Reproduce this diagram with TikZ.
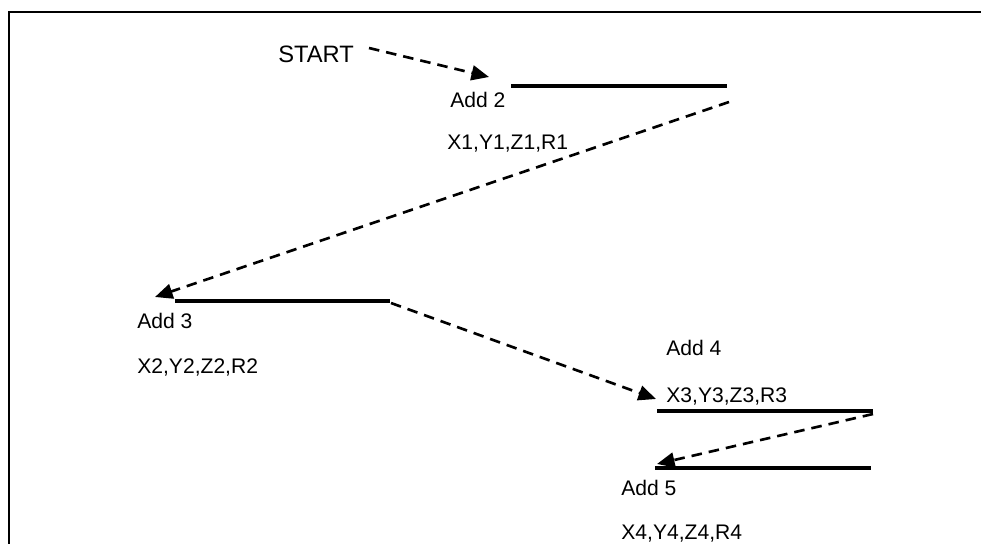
\documentclass[tikz,border=0pt]{standalone}
\usepackage{fontspec}
\setmainfont{Liberation Sans}
\usetikzlibrary{arrows.meta}
\begin{document}
\begin{tikzpicture}[x=0.02cm,y=-0.02cm,
  lbl/.style={anchor=base west,inner sep=0pt,font=\fontsize{12}{14}\selectfont},
  biglbl/.style={lbl,font=\fontsize{13.5}{16}\selectfont},
  bar/.style={line width=2.6pt},
  flow/.style={line width=1.5pt,dash pattern=on 6pt off 4pt,-{Triangle[length=10pt,width=8.5pt]}},
  frame/.style={line width=1.4pt}]
\useasboundingbox (0,0) rectangle (981,544);
% frame (cropped)
\coordinate (fa) at (9,544);
\coordinate (fb) at (9,12);
\coordinate (fc) at (981,12);
\draw[frame] (fa) -- (fb) -- (fc);
% texts
\node[biglbl] (start) at (278,63) {START};
\node[lbl] (add2) at (450,108) {Add 2};
\node[lbl] (v1) at (447,150) {X1,Y1,Z1,R1};
\node[lbl] (add3) at (137,328) {Add 3};
\node[lbl] (v2) at (137,373) {X2,Y2,Z2,R2};
\node[lbl] (add4) at (666,355) {Add 4};
\node[lbl] (v3) at (666,402) {X3,Y3,Z3,R3};
\node[lbl] (add5) at (621,495) {Add 5};
\node[lbl] (v4) at (621,539) {X4,Y4,Z4,R4};
% bars
\coordinate (b2l) at (511,86); \coordinate (b2r) at (727,86);
\coordinate (b3l) at (175,301); \coordinate (b3r) at (390,301);
\coordinate (b4l) at (657,411); \coordinate (b4r) at (873,411);
\coordinate (b5l) at (655,468); \coordinate (b5r) at (871,468);
\draw[bar] (b2l) -- (b2r);
\draw[bar] (b3l) -- (b3r);
\draw[bar] (b4l) -- (b4r);
\draw[bar] (b5l) -- (b5r);
% arrows
\coordinate (s0) at (369,48); \coordinate (t0) at (489,77);
\coordinate (s1) at (729,102); \coordinate (t1) at (155,297);
\coordinate (s2) at (391,303); \coordinate (t2) at (656,399);
\coordinate (s3) at (873,414); \coordinate (t3) at (657,464);
\draw[flow] (s0) -- (t0);
\draw[flow] (s1) -- (t1);
\draw[flow] (s2) -- (t2);
\draw[flow] (s3) -- (t3);
\end{tikzpicture}
\end{document}
